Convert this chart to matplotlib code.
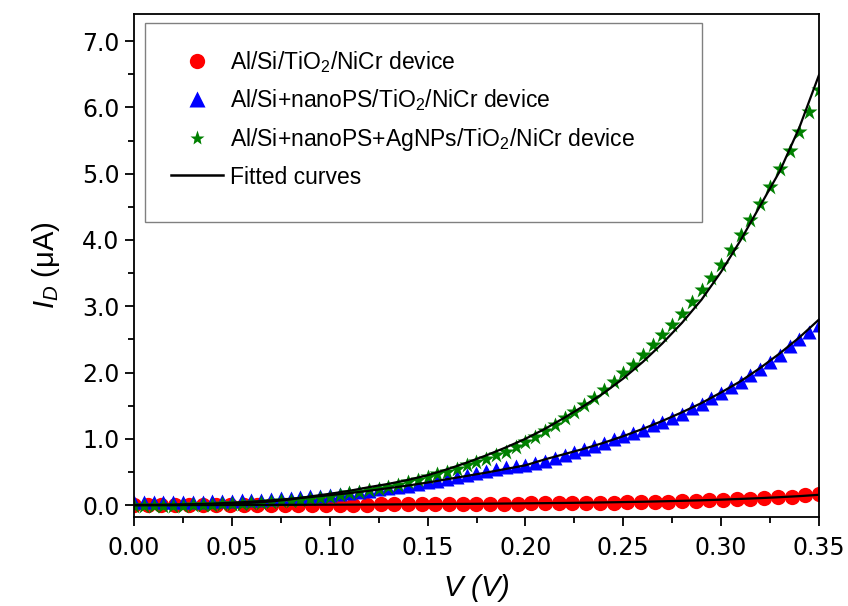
import numpy as np
import matplotlib
matplotlib.use("Agg")
import matplotlib.pyplot as plt
from matplotlib.lines import Line2D
from matplotlib.patches import Rectangle
from matplotlib.ticker import MultipleLocator, FormatStrFormatter

plt.rcParams['mathtext.fontset'] = 'custom'
plt.rcParams['mathtext.rm'] = 'Liberation Sans'
plt.rcParams['mathtext.it'] = 'Liberation Sans:italic'

# ---------------- data ----------------
# Al/Si/TiO2/NiCr device (red circles), V step 0.007
v_red = [round(0.007 * i, 3) for i in range(51)]
i_red = [0.000, 0.000, 0.000, 0.000, 0.000, 0.000, 0.000, 0.000, 0.005, 0.005,
         0.005, 0.005, 0.005, 0.005, 0.005, 0.005, 0.008, 0.008, 0.010, 0.010,
         0.012, 0.012, 0.014, 0.015, 0.017, 0.018, 0.020, 0.021, 0.023, 0.025,
         0.027, 0.029, 0.031, 0.033, 0.035, 0.038, 0.041, 0.045, 0.049, 0.053,
         0.058, 0.064, 0.070, 0.077, 0.085, 0.094, 0.104, 0.116, 0.129, 0.145,
         0.165]

# V step 0.005 for blue and green
v_05 = [round(0.005 * i, 3) for i in range(71)]
i_blue = [0.040, 0.040, 0.040, 0.040, 0.045, 0.045, 0.050, 0.050, 0.055, 0.060,
          0.065, 0.070, 0.075, 0.080, 0.090, 0.100, 0.110, 0.120, 0.130, 0.140,
          0.155, 0.170, 0.185, 0.200, 0.215, 0.235, 0.255, 0.275, 0.295, 0.320,
          0.345, 0.370, 0.395, 0.420, 0.450, 0.480, 0.510, 0.540, 0.570, 0.590,
          0.610, 0.640, 0.670, 0.710, 0.755, 0.800, 0.845, 0.890, 0.940, 0.990,
          1.040, 1.090, 1.140, 1.210, 1.260, 1.320, 1.380, 1.460, 1.530, 1.610,
          1.685, 1.775, 1.860, 1.960, 2.060, 2.160, 2.270, 2.400, 2.500, 2.610,
          2.710]
i_green = [-0.020, -0.020, -0.020, -0.015, -0.010, -0.010, -0.005, 0.000, 0.000, 0.010,
           0.015, 0.020, 0.030, 0.035, 0.045, 0.055, 0.065, 0.075, 0.090, 0.100,
           0.125, 0.150, 0.175, 0.200, 0.225, 0.250, 0.280, 0.310, 0.345, 0.385,
           0.425, 0.465, 0.500, 0.550, 0.600, 0.650, 0.700, 0.750, 0.800, 0.880,
           0.955, 1.030, 1.120, 1.210, 1.310, 1.410, 1.510, 1.620, 1.730, 1.860,
           1.990, 2.110, 2.260, 2.410, 2.560, 2.710, 2.880, 3.070, 3.240, 3.430,
           3.630, 3.850, 4.070, 4.300, 4.540, 4.800, 5.070, 5.350, 5.630, 5.930,
           6.260]

# fitted curves, V step 0.01
v_fit = [round(0.01 * i, 2) for i in range(36)]
fit_red = [0.000, 0.000, 0.000, 0.000, 0.000, 0.001, 0.002, 0.003, 0.004, 0.005,
           0.006, 0.007, 0.008, 0.010, 0.012, 0.014, 0.016, 0.018, 0.020, 0.023,
           0.026, 0.029, 0.032, 0.036, 0.040, 0.045, 0.050, 0.057, 0.064, 0.072,
           0.082, 0.093, 0.105, 0.119, 0.135, 0.155]
fit_blue = [0.000, 0.002, 0.006, 0.012, 0.022, 0.035, 0.050, 0.070, 0.095, 0.120,
            0.150, 0.180, 0.215, 0.255, 0.295, 0.340, 0.390, 0.440, 0.490, 0.545,
            0.600, 0.690, 0.770, 0.850, 0.940, 1.040, 1.150, 1.270, 1.400, 1.540,
            1.700, 1.870, 2.070, 2.290, 2.530, 2.800]
fit_green = [0.000, 0.000, 0.000, 0.005, 0.010, 0.020, 0.035, 0.055, 0.085, 0.130,
             0.170, 0.215, 0.270, 0.320, 0.380, 0.450, 0.540, 0.640, 0.750, 0.870,
             1.000, 1.150, 1.320, 1.500, 1.690, 1.910, 2.160, 2.440, 2.750, 3.100,
             3.520, 4.000, 4.520, 5.040, 5.700, 6.490]

labels = [r'Al/Si/TiO$_2$/NiCr device',
          r'Al/Si+nanoPS/TiO$_2$/NiCr device',
          r'Al/Si+nanoPS+AgNPs/TiO$_2$/NiCr device',
          'Fitted curves']

# ---------------- figure ----------------
W, H = 848, 606
fig = plt.figure(figsize=(W / 100, H / 100), dpi=100)
ax = fig.add_axes([134 / W, 1 - 517 / H, 685 / W, 503 / H])

ax.plot(v_red, i_red, 'o', color='#ff0000', ms=11, mec='none', zorder=2)
ax.plot(v_05, i_blue, '^', color='#0000ff', ms=9.5, mec='none', zorder=2)
ax.plot(v_05, i_green, '*', color='#008000', ms=12, mec='none', zorder=2)
for f in (fit_red, fit_blue, fit_green):
    ax.plot(v_fit, f, '-', color='black', lw=1.6, zorder=3)

ax.set_xlim(0, 0.35)
ax.set_ylim(-0.18, 7.41)
ax.xaxis.set_major_locator(MultipleLocator(0.05))
ax.xaxis.set_minor_locator(MultipleLocator(0.025))
ax.yaxis.set_major_locator(MultipleLocator(1.0))
ax.yaxis.set_minor_locator(MultipleLocator(0.5))
ax.xaxis.set_major_formatter(FormatStrFormatter('%.2f'))
ax.yaxis.set_major_formatter(FormatStrFormatter('%.1f'))
ax.tick_params(which='both', direction='out', top=False, right=False, width=1.3)
ax.tick_params(which='major', length=6.5, labelsize=17, pad=4)
ax.tick_params(which='minor', length=4)
ax.tick_params(axis='x', which='major', pad=7)
for lab in ax.get_xticklabels() + ax.get_yticklabels():
    lab.set_fontfamily('DejaVu Sans')
for s in ax.spines.values():
    s.set_linewidth(1.3)

ax.set_xlabel(r'$V$ (V)', fontsize=21, fontstyle='italic', family='Liberation Sans', labelpad=9)
ax.set_ylabel(r'$I_D$ ($\mathrm{\mu}$A)', fontsize=21, family='Liberation Sans', labelpad=14)

# legend frame drawn as a rectangle
fx0 = (145 - 134) / 685
fy0 = (517 - 222) / 503
fw = (702 - 145) / 685
fh = (222 - 23) / 503
ax.add_patch(Rectangle((fx0, fy0), fw, fh, transform=ax.transAxes, facecolor='white',
                       edgecolor='#808080', lw=1.0, zorder=4))

handles = [Line2D([], [], ls='none', marker='o', color='#ff0000', ms=11, mec='none'),
           Line2D([], [], ls='none', marker='^', color='#0000ff', ms=11, mec='none'),
           Line2D([], [], ls='none', marker='*', color='#008000', ms=11, mec='none'),
           Line2D([], [], color='black', lw=1.8)]
leg = ax.legend(handles, labels, loc='upper left', bbox_to_anchor=(fx0, fy0 + fh),
                borderaxespad=0, frameon=False, borderpad=1.13, labelspacing=0.55,
                handlelength=2.27, handletextpad=0.32,
                prop={'family': 'Liberation Sans', 'size': 16.5})
leg.set_zorder(5)

fig.savefig('out.png', dpi=100)
